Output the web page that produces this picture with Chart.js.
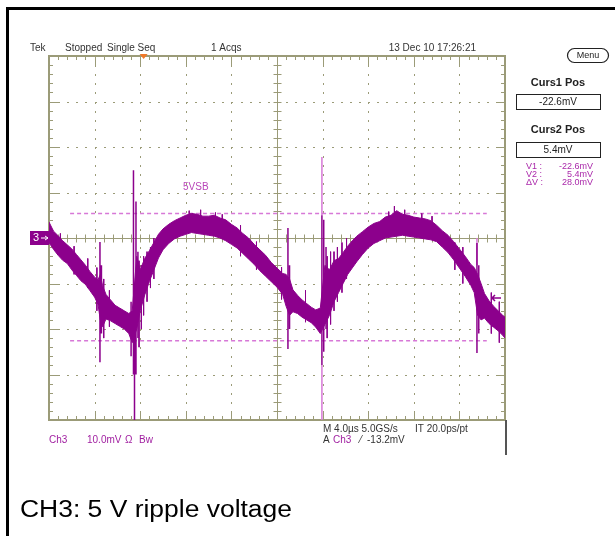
<!DOCTYPE html>
<html>
<head>
<meta charset="utf-8">
<script src="https://cdn.jsdelivr.net/npm/chart.js@4.4.1/dist/chart.umd.min.js"></script>
<style>
  html, body { margin: 0; padding: 0; background: #fff; }
  #wrap { position: relative; width: 615px; height: 536px; }
</style>
</head>
<body>
<div id="wrap"><canvas id="scope" width="615" height="536"></canvas></div>
<script>
// Ch3 ripple, 4.0us/div (10 div) and 10.0mV/div (8 div), ground at screen centre
// band of the trace: upper / lower edge in mV at each time (us)
const timeUs = [0.0, 0.4, 0.8, 1.2, 1.6, 2.0, 2.4, 2.8, 3.2, 3.6, 4.0, 4.3, 4.5, 4.7, 5.0, 5.4, 5.8, 6.2, 6.6, 7.0, 7.3,
  7.7, 8.0, 8.4, 8.8, 9.2, 9.6, 10.0, 10.5, 11.0, 11.5, 12.0, 12.5, 13.0, 13.5, 14.0, 14.5, 15.0, 15.5, 16.0, 16.5,
  17.0, 17.5, 18.0, 18.5, 19.0, 19.5, 20.0, 20.5, 20.8, 21.1, 21.4, 21.8, 22.2, 22.6, 23.0, 23.4, 23.8,
  24.2, 24.6, 25.0, 25.4, 25.8, 26.2, 26.6, 27.0, 27.5, 28.0, 28.5, 29.0, 29.5, 30.0, 30.5, 31.0, 31.5, 32.0,
  32.5, 33.0, 33.5, 34.0, 34.5, 35.0, 35.5, 36.0, 36.5, 37.0, 37.3, 37.6, 37.9, 38.2, 38.6, 39.0, 39.4, 39.8, 40.0];
const traceHi = [3.5, 1.5, 0.5, -0.6, -1.5, -2.4, -3.6, -4.8, -6.0, -7.4, -8.6, -9.2, -8.0, -10.5, -12.4, -13.6, -14.8, -15.4, -16.0, -16.6, -16.0,
  -4.0, -7.0, -4.5, -2.8, -1.0, 0.8, 2.0, 3.0, 3.8, 4.4, 5.0, 5.4, 5.2, 4.8, 4.8, 5.0, 4.4, 4.0, 3.0, 2.2,
  1.0, 0.0, -1.4, -2.6, -3.8, -5.4, -6.6, -7.8, -8.0, -9.0, -11.4, -12.6, -13.6, -14.4, -15.2, -15.8, -15.4,
  -6.0, -7.0, -5.0, -4.5, -3.2, -1.8, -0.6, 0.4, 1.4, 2.4, 3.2, 3.6, 4.6, 5.0, 6.0, 5.2, 5.0, 4.6,
  4.4, 4.2, 3.8, 2.8, 1.6, 0.6, -0.8, -2.4, -4.0, -5.8, -6.5, -8.0, -10.0, -12.2, -13.8, -15.0, -16.0, -17.0, -17.4];
const traceLo = [-1.0, -2.5, -3.8, -4.9, -5.6, -7.0, -8.2, -9.4, -10.2, -11.6, -13.0, -14.6, -18.0, -19.5, -17.8, -18.2, -18.8, -19.4, -20.0, -21.0, -23.0,
  -20.0, -16.0, -12.5, -9.6, -7.0, -4.4, -2.6, -1.2, -0.2, 0.4, 0.8, 1.2, 1.0, 0.8, 0.6, 0.4, 0.0, -0.6, -1.4, -2.2,
  -3.4, -4.6, -5.8, -7.2, -8.4, -9.6, -10.8, -12.4, -15.0, -17.0, -16.2, -16.6, -17.4, -18.0, -18.6, -19.6, -21.0,
  -19.0, -17.0, -14.0, -12.0, -10.0, -8.0, -6.6, -5.2, -3.6, -2.2, -1.2, -0.6, 0.0, 0.2, 0.4, 0.6, 0.4, 0.2,
  0.0, -0.2, -0.4, -0.8, -2.0, -3.2, -4.8, -6.6, -8.4, -10.4, -12.0, -17.0, -18.0, -17.6, -18.8, -19.6, -20.4, -21.4, -22.0];

// switching spikes: time, top and bottom in mV
const spikeT   = [4.47, 4.6, 7.2, 7.41, 7.5, 7.63, 7.8, 20.96, 21.1, 23.94, 24.1, 24.3, 37.54, 37.7];
const spikeTop = [-0.9, -6.0, -14.0, 14.9, -10.0, 8.0, -3.0, 2.2, -6.0, 5.0, 4.0, -2.0, -1.1, -6.0];
const spikeBot = [-27.3, -21.0, -26.0, -30.0, -40.0, -30.0, -22.0, -24.4, -20.0, -27.9, -25.0, -20.0, -25.3, -21.0];
// lighter (pink) parts of the big spike at 23.9us
const pinkT   = [23.94, 23.94, 37.54];
const pinkTop = [17.8, -27.9, 0.0];
const pinkBot = [5.0, -40.0, -6.0];
// noise hairs sticking out of the band
const hairT   = [1.0, 2.2, 3.4, 4.2, 4.8, 5.3, 7.9, 8.1, 8.3, 8.6, 8.9, 9.2, 12.3, 13.3, 14.6, 15.2, 16.8, 18.2,
  20.4, 22.5, 24.4, 24.7, 25.0, 25.3, 25.7, 26.1, 29.8, 30.3, 31.2, 32.7, 33.6, 35.6, 36.3, 38.8, 39.5];
const hairTop = [1.0, -1.8, -4.5, -6.5, -9.0, -11.5, -5.0, -6.0, -4.0, -3.0, -2.0, 0.0, 6.0, 6.2, 5.6, 5.2, 2.8, -0.8,
  -6.4, -11.5, -4.0, -3.0, -3.0, -2.0, -1.0, 0.0, 5.8, 7.0, 6.2, 5.4, 4.8, -1.0, -2.0, -12.0, -14.0];
const hairBot = [-4.0, -8.0, -11.0, -16.0, -22.0, -19.5, -24.0, -20.0, -17.0, -14.0, -11.0, -9.0, 2.0, 2.0, 1.5, 1.0, -4.0, -7.0,
  -13.5, -18.5, -22.0, -19.0, -16.0, -14.0, -12.0, -9.0, 1.0, 1.5, 1.5, 1.0, 0.0, -7.0, -10.0, -21.0, -23.0];

const cursorLevels = [-22.6, 5.4];   // Curs1, Curs2
const cursorSpan = [1.85, 38.4];
const trigLevel = -13.2;
const trigTime = 8.3;

const PURPLE = 'rgb(140,0,140)';
const PINK = 'rgb(215,120,215)';
const GRID = 'rgb(155,155,120)';

function segments(ts, tops, bots) {
    const out = [];
    ts.forEach((t, i) => {
        out.push({x: t, y: tops[i]}, {x: t, y: bots[i]}, {x: t, y: null});
    });
    return out;
}

const hiPts = timeUs.map((t, i) => ({x: t, y: traceHi[i]}));
const loPts = timeUs.map((t, i) => ({x: t, y: traceLo[i]}));
const cursorSets = cursorLevels.map(v => ({
    data: [{x: cursorSpan[0], y: v}, {x: cursorSpan[1], y: v}],
    borderColor: PINK,
    borderWidth: 1.5,
    borderDash: [4, 3],
    pointRadius: 0,
    fill: false
}));

// graticule: dotted grid, solid centre cross, ticks on edges
const graticule = {
    id: 'graticule',
    beforeDatasetsDraw(chart) {
        const {ctx, chartArea: a, scales: {x, y}} = chart;
        ctx.save();
        ctx.fillStyle = GRID;
        for (let i = 1; i < 10; i++) {
            if (i === 5) continue;
            const px = Math.round(x.getPixelForValue(i * 4));
            for (let j = 1; j < 40; j++) {
                ctx.fillRect(px, Math.round(y.getPixelForValue(-40 + j * 2)), 1, 2);
            }
        }
        for (let i = 1; i < 8; i++) {
            if (i === 4) continue;
            const py = Math.round(y.getPixelForValue(-40 + i * 10));
            for (let j = 1; j < 50; j++) {
                ctx.fillRect(Math.round(x.getPixelForValue(j * 0.8)), py, 2, 1);
            }
        }
        ctx.strokeStyle = GRID;
        ctx.lineWidth = 1;
        const cx = Math.round(x.getPixelForValue(20)) + 0.5;
        const cy = Math.round(y.getPixelForValue(0)) + 0.5;
        ctx.beginPath();
        ctx.moveTo(cx, a.top); ctx.lineTo(cx, a.bottom);
        ctx.moveTo(a.left, cy); ctx.lineTo(a.right, cy);
        for (let j = 1; j < 50; j++) {
            const px = Math.round(x.getPixelForValue(j * 0.8)) + 0.5;
            const len = j % 5 === 0 ? 9 : 4;
            ctx.moveTo(px, a.top); ctx.lineTo(px, a.top + len);
            ctx.moveTo(px, a.bottom); ctx.lineTo(px, a.bottom - len);
            ctx.moveTo(px, cy - 4); ctx.lineTo(px, cy + 4);
        }
        for (let j = 1; j < 40; j++) {
            const py = Math.round(y.getPixelForValue(-40 + j * 2)) + 0.5;
            const len = j % 5 === 0 ? 9 : 4;
            ctx.moveTo(a.left, py); ctx.lineTo(a.left + len, py);
            ctx.moveTo(a.right, py); ctx.lineTo(a.right - len, py);
            ctx.moveTo(cx - 4, py); ctx.lineTo(cx + 4, py);
        }
        ctx.stroke();
        ctx.lineWidth = 2;
        ctx.strokeRect(a.left, a.top, a.right - a.left, a.bottom - a.top);
        ctx.restore();
    },
    afterDraw(chart) {
        const {ctx, chartArea: a, scales: {x, y}} = chart;
        ctx.save();
        // outer frame
        ctx.fillStyle = '#000';
        ctx.fillRect(6, 7, 3, 529);
        ctx.fillRect(6, 7, 609, 3);
        ctx.fillStyle = '#555';
        ctx.fillRect(505, a.bottom, 2, 455 - a.bottom);

        ctx.textBaseline = 'middle';
        ctx.font = '10px "Liberation Sans", Arial, sans-serif';
        ctx.fillStyle = '#333';
        ctx.fillText('Tek', 30, 48);
        ctx.fillText('Stopped', 65, 48);
        ctx.fillText('Single Seq', 107, 48);
        ctx.fillText('1 Acqs', 211, 48);
        ctx.textAlign = 'right';
        ctx.fillText('13 Dec 10 17:26:21', 476, 48);
        ctx.textAlign = 'left';

        // trigger position marker
        const tx = x.getPixelForValue(trigTime);
        ctx.fillStyle = 'rgb(240,120,40)';
        ctx.beginPath();
        ctx.moveTo(tx - 4, a.top - 2); ctx.lineTo(tx + 4, a.top - 2); ctx.lineTo(tx, a.top + 3);
        ctx.closePath(); ctx.fill();

        // ground marker of ch3
        const gy = y.getPixelForValue(0);
        ctx.fillStyle = PURPLE;
        ctx.fillRect(30, gy - 7, 19, 14);
        ctx.fillStyle = '#fff';
        ctx.font = '11px "Liberation Sans", Arial, sans-serif';
        ctx.fillText('3', 33, gy);
        ctx.strokeStyle = '#fff';
        ctx.lineWidth = 1;
        ctx.beginPath();
        ctx.moveTo(41, gy); ctx.lineTo(48, gy);
        ctx.moveTo(45, gy - 2); ctx.lineTo(48, gy); ctx.lineTo(45, gy + 2);
        ctx.stroke();

        // trigger level arrow
        const ty = y.getPixelForValue(trigLevel);
        ctx.strokeStyle = PURPLE;
        ctx.lineWidth = 1.5;
        ctx.beginPath();
        ctx.moveTo(492, ty); ctx.lineTo(501, ty);
        ctx.moveTo(495, ty - 3); ctx.lineTo(492, ty); ctx.lineTo(495, ty + 3);
        ctx.stroke();

        ctx.fillStyle = 'rgb(185,70,185)';
        ctx.font = '10px "Liberation Sans", Arial, sans-serif';
        ctx.fillText('5VSB', 183, 187);

        // bottom status line
        ctx.fillStyle = 'rgb(160,30,160)';
        ctx.fillText('Ch3', 49, 440);
        ctx.fillText('10.0mV', 87, 440);
        ctx.fillText('Ω', 125, 440);
        ctx.fillText('Bw', 139, 440);
        ctx.fillText('Ch3', 333, 440);
        ctx.fillStyle = '#333';
        ctx.fillText('M 4.0µs 5.0GS/s', 323, 429);
        ctx.fillText('IT 20.0ps/pt', 415, 429);
        ctx.fillText('A', 323, 440);
        ctx.fillText('⁄', 360, 440);
        ctx.fillText('-13.2mV', 367, 440);

        // right menu panel
        ctx.strokeStyle = '#222';
        ctx.lineWidth = 1.2;
        ctx.beginPath();
        ctx.roundRect(567.5, 48.5, 41, 14, 7);
        ctx.stroke();
        ctx.fillStyle = '#222';
        ctx.textAlign = 'center';
        ctx.font = '9px "Liberation Sans", Arial, sans-serif';
        ctx.fillText('Menu', 588, 56);
        ctx.font = 'bold 11px "Liberation Sans", Arial, sans-serif';
        ctx.fillText('Curs1 Pos', 558, 83);
        ctx.fillText('Curs2 Pos', 558, 130);
        ctx.lineWidth = 1;
        ctx.strokeRect(516.5, 94.5, 84, 15);
        ctx.strokeRect(516.5, 142.5, 84, 15);
        ctx.font = '10px "Liberation Sans", Arial, sans-serif';
        ctx.fillText(cursorLevels[0].toFixed(1) + 'mV', 558, 102);
        ctx.fillText(cursorLevels[1].toFixed(1) + 'mV', 558, 150);
        ctx.fillStyle = 'rgb(170,40,170)';
        ctx.font = '9px "Liberation Sans", Arial, sans-serif';
        const rows = [['V1 :', cursorLevels[0]], ['V2 :', cursorLevels[1]], ['ΔV :', cursorLevels[1] - cursorLevels[0]]];
        rows.forEach((r, i) => {
            ctx.textAlign = 'left';
            ctx.fillText(r[0], 526, 167 + i * 8);
            ctx.textAlign = 'right';
            ctx.fillText(r[1].toFixed(1) + 'mV', 593, 167 + i * 8);
        });

        // caption, the source is a bit stretched sideways
        ctx.textAlign = 'left';
        ctx.textBaseline = 'alphabetic';
        ctx.fillStyle = '#000';
        ctx.font = '23px "Liberation Sans", Arial, sans-serif';
        ctx.translate(20, 517);
        ctx.scale(1.15, 1);
        ctx.fillText('CH3: 5 V ripple voltage', 0, 0);
        ctx.restore();
    }
};

new Chart(document.getElementById('scope').getContext('2d'), {
    type: 'line',
    data: {
        datasets: [
            { data: hiPts, borderColor: PURPLE, borderWidth: 1, pointRadius: 0, fill: false },
            { data: loPts, borderColor: PURPLE, borderWidth: 1, pointRadius: 0, fill: 0, backgroundColor: PURPLE },
            { data: segments(hairT, hairTop, hairBot), borderColor: PURPLE, borderWidth: 1, pointRadius: 0, fill: false },
            { data: segments(spikeT, spikeTop, spikeBot), borderColor: PURPLE, borderWidth: 1.5, pointRadius: 0, fill: false },
            { data: segments(pinkT, pinkTop, pinkBot), borderColor: PINK, borderWidth: 1.5, pointRadius: 0, fill: false },
            ...cursorSets
        ]
    },
    options: {
        responsive: false,
        animation: false,
        devicePixelRatio: 1,
        layout: { padding: { left: 49, top: 56, right: 110, bottom: 116 } },
        scales: {
            x: { type: 'linear', min: 0, max: 40, display: false },
            y: { type: 'linear', min: -40, max: 40, display: false }
        },
        plugins: { legend: { display: false }, tooltip: { enabled: false } }
    },
    plugins: [graticule]
});
</script>
</body>
</html>
